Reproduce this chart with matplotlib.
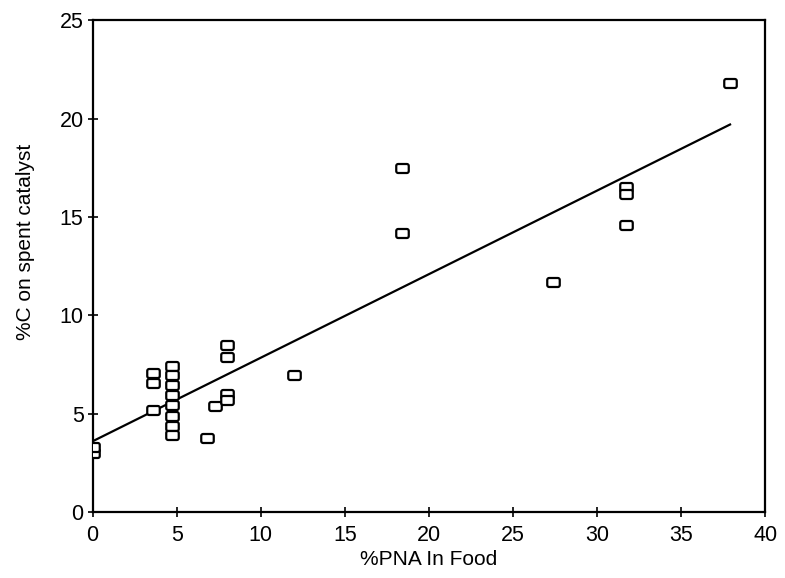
import numpy as np
import matplotlib
matplotlib.use("Agg")
import matplotlib.pyplot as plt
from matplotlib.path import Path

# Data
pna_pct = [0.0, 0.0,
           3.6, 3.6, 3.6,
           4.7, 4.7, 4.7, 4.7, 4.7, 4.7, 4.7, 4.7,
           6.8, 7.3, 8.0, 8.0, 8.0, 8.0,
           12.0, 18.4, 18.4, 27.4,
           31.7, 31.7, 31.7, 37.9]
carbon_pct = [3.0, 3.3,
              7.05, 6.55, 5.2,
              7.45, 6.95, 6.45, 5.95, 5.45, 4.9, 4.4, 3.9,
              3.75, 5.4, 8.5, 7.9, 6.0, 5.7,
              6.95, 17.5, 14.2, 11.7,
              16.5, 16.15, 14.6, 21.8]

# Regression line end points
fit_x = [0.0, 37.9]
fit_y = [3.6, 19.7]

x_ticks = [0, 5, 10, 15, 20, 25, 30, 35, 40]
y_ticks = [0, 5, 10, 15, 20, 25]


def rounded_rect_marker(w=1.0, h=0.72, r=0.15, n=6):
    """Open rounded rectangle used as the plotting symbol."""
    pts = []
    corners = [(w / 2 - r, h / 2 - r, 0), (-w / 2 + r, h / 2 - r, 90),
               (-w / 2 + r, -h / 2 + r, 180), (w / 2 - r, -h / 2 + r, 270)]
    for cx, cy, a0 in corners:
        for t in np.linspace(np.radians(a0), np.radians(a0 + 90), n):
            pts.append((cx + r * np.cos(t), cy + r * np.sin(t)))
    pts.append(pts[0])
    codes = [Path.MOVETO] + [Path.LINETO] * (len(pts) - 2) + [Path.CLOSEPOLY]
    return Path(pts, codes)


plt.rcParams['font.family'] = ['Liberation Sans', 'DejaVu Sans']

fig = plt.figure(figsize=(7.85, 5.78), dpi=100)
ax = fig.add_axes([0.118, 0.114, 0.857, 0.851])

ax.plot(pna_pct, carbon_pct, linestyle='none', marker=rounded_rect_marker(),
        markersize=9, markerfacecolor='white', markeredgecolor='black',
        markeredgewidth=1.6, zorder=3)
ax.plot(fit_x, fit_y, color='black', linewidth=1.6, zorder=2)

ax.set_xlim(0, 40)
ax.set_ylim(0, 25)
ax.set_xticks(x_ticks)
ax.set_yticks(y_ticks)
ax.tick_params(axis='x', direction='inout', length=7, width=1.2, labelsize=15.5, pad=6)
ax.tick_params(axis='y', direction='inout', length=7, width=1.2, labelsize=15.5, pad=3)
for spine in ax.spines.values():
    spine.set_linewidth(1.6)

ax.set_xlabel('%PNA In Food', fontsize=15, labelpad=3)
ax.set_ylabel('%C on spent catalyst', fontsize=15)
ax.yaxis.set_label_coords(-0.085, 0.55)

fig.savefig('out.png', dpi=100)
